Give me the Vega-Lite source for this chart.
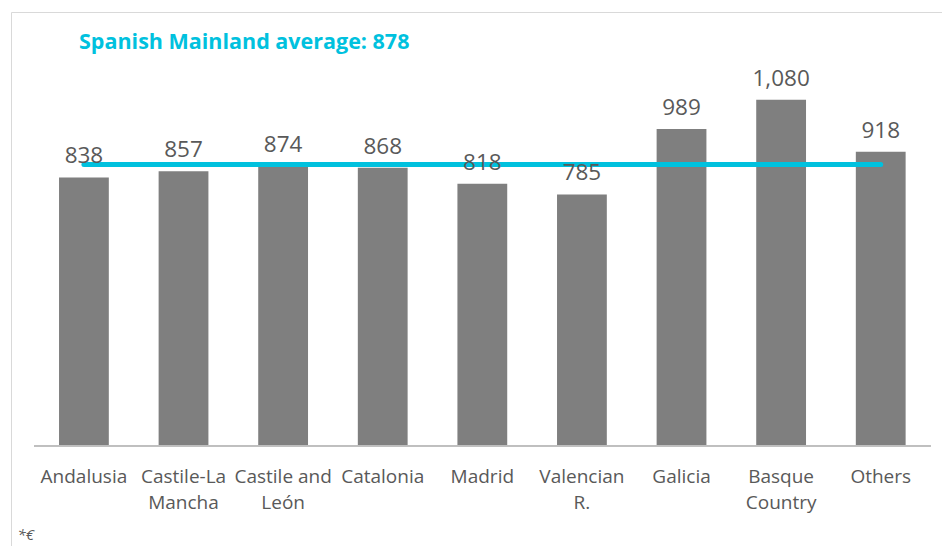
{
  "$schema": "https://vega.github.io/schema/vega-lite/v6.json",
  "width": 931,
  "height": 534,
  "autosize": {"type": "none"},
  "padding": {"left": 11, "top": 12, "right": 0, "bottom": 0},
  "background": "white",
  "config": {
    "view": {"stroke": "#d9d9d9", "strokeWidth": 1},
    "font": "Open Sans"
  },
  "title": {
    "text": "Spanish Mainland average: 878",
    "anchor": "start",
    "frame": "group",
    "dx": 68,
    "offset": -41,
    "baseline": "top",
    "font": "Open Sans",
    "fontSize": 21.5,
    "fontWeight": "bold",
    "color": "#00C1DE"
  },
  "data": {
    "values": [
      {"region": "Andalusia", "value": 838},
      {"region": "Castile-La Mancha", "value": 857},
      {"region": "Castile and León", "value": 874},
      {"region": "Catalonia", "value": 868},
      {"region": "Madrid", "value": 818},
      {"region": "Valencian R.", "value": 785},
      {"region": "Galicia", "value": 989},
      {"region": "Basque Country", "value": 1080},
      {"region": "Others", "value": 918}
    ]
  },
  "encoding": {
    "x": {
      "field": "region",
      "type": "nominal",
      "sort": null,
      "scale": {"paddingInner": 0.5, "paddingOuter": 0.4237, "align": 0.569},
      "axis": {
        "orient": "bottom",
        "offset": -100,
        "domain": false,
        "ticks": false,
        "tickSize": 0,
        "grid": false,
        "labelPadding": 21,
        "labelAngle": 0,
        "labelBaseline": "top",
        "labelFont": "Open Sans",
        "labelFontSize": 19,
        "labelColor": "#595959",
        "labelLineHeight": 26,
        "labelExpr": "datum.label == 'Castile-La Mancha' ? ['Castile-La','Mancha'] : datum.label == 'Castile and León' ? ['Castile and','León'] : datum.label == 'Valencian R.' ? ['Valencian','R.'] : datum.label == 'Basque Country' ? ['Basque','Country'] : datum.label",
        "title": "*€",
        "titleX": 6,
        "titleY": 93,
        "titleAlign": "left",
        "titleBaseline": "alphabetic",
        "titleAngle": 0,
        "titleFont": "Open Sans",
        "titleFontStyle": "italic",
        "titleFontWeight": "normal",
        "titleFontSize": 15,
        "titleColor": "#595959"
      }
    }
  },
  "layer": [
    {
      "mark": {"type": "bar", "color": "#7f7f7f"},
      "encoding": {
        "y": {
          "field": "value",
          "type": "quantitative",
          "scale": {"domain": [-312, 1354], "nice": false, "zero": false},
          "axis": null
        },
        "y2": {"datum": 0}
      }
    },
    {
      "mark": {"type": "rule", "color": "#bfbfbf", "strokeWidth": 1},
      "encoding": {
        "x": {"datum": "Andalusia", "bandPosition": -0.5},
        "x2": {"datum": "Others", "bandPosition": 1.5},
        "y": {"datum": 0}
      }
    },
    {
      "mark": {"type": "line", "color": "#00C1DE", "strokeWidth": 5, "strokeCap": "round"},
      "encoding": {
        "y": {"datum": 878}
      }
    },
    {
      "mark": {"type": "text", "baseline": "alphabetic", "dy": -14, "fontSize": 22.5, "font": "Open Sans", "color": "#595959"},
      "encoding": {
        "y": {"field": "value", "type": "quantitative"},
        "text": {"field": "value", "type": "quantitative", "format": ","}
      }
    }
  ]
}
